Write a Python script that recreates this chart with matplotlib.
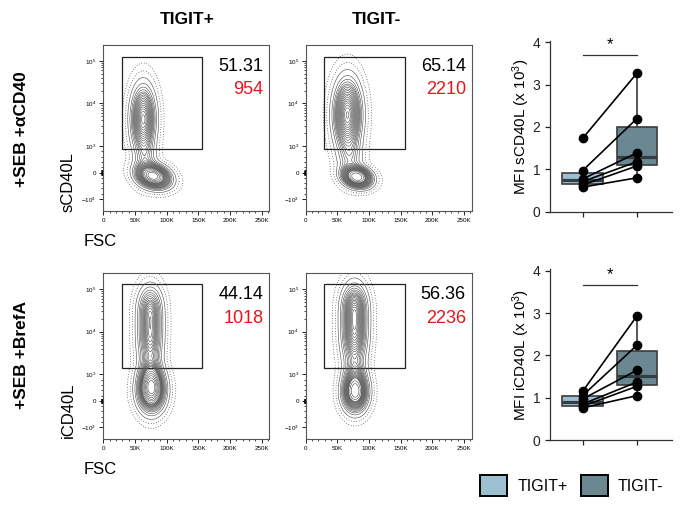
import numpy as np
import matplotlib
matplotlib.use('Agg')
import matplotlib.pyplot as plt
from matplotlib.patches import Rectangle, Patch

plt.rcParams['font.family'] = ['Liberation Sans', 'DejaVu Sans']
plt.rcParams['mathtext.default'] = 'regular'

# ---- labels ----
col_titles = ['TIGIT+', 'TIGIT-']
row_titles = ['+SEB +\u03b1CD40', '+SEB +BrefA']
marker_labels = ['sCD40L', 'iCD40L']
box_ylabels = ['MFI sCD40L (x 10$^3$)', 'MFI iCD40L (x 10$^3$)']

# ---- numbers printed in the flow panels [row][col] ----
gate_pct = [['51.31', '65.14'], ['44.14', '56.36']]
gate_mfi = [['954', '2210'], ['1018', '2236']]

# ---- gate per row (FSC range, CD40L range) ----
gate_fsc = [29e3, 156e3]
gate_low = [900, 1420]
gate_high = [1.25e5, 1.32e5]

# ---- cell populations per panel [row][col]
# each: FSC centre (K), CD40L centre (display units: 0 -> 0, 0.62 -> 10^3, 1.62 -> 10^4),
#       FSC spread (K), CD40L spread, weight, correlation
pops = [
    [
        [[63, 1.25, 10.5, 0.42, 0.50, 0.0], [79, -0.08, 14, 0.15, 0.42, -0.25], [66, 0.30, 10, 0.30, 0.08, 0.0]],
        [[66, 1.35, 12, 0.45, 0.62, 0.0], [81, -0.10, 12, 0.13, 0.30, -0.2], [70, 0.35, 11, 0.30, 0.08, 0.0]],
    ],
    [
        [[74, 1.55, 11, 0.50, 0.36, 0.0], [74, 2.20, 11, 0.28, 0.10, 0.0], [76, 0.25, 12, 0.28, 0.44, 0.0],
         [75, 0.60, 10, 0.25, 0.10, 0.0]],
        [[77, 1.65, 11.5, 0.50, 0.46, 0.0], [77, 2.25, 11.5, 0.28, 0.12, 0.0], [78, 0.20, 11, 0.25, 0.34, 0.0],
         [78, 0.60, 10, 0.25, 0.08, 0.0]],
    ],
]

# ---- paired MFI values (x 10^3) ----
s_pos = [1.73, 0.97, 0.77, 0.71, 0.63, 0.58]
s_neg = [3.27, 2.20, 1.39, 1.18, 1.08, 0.80]
i_pos = [1.15, 1.05, 0.97, 0.85, 0.80, 0.76]
i_neg = [2.93, 2.24, 1.65, 1.37, 1.27, 1.05]
sig_height = [3.70, 3.66]

c_pos = '#9cc0d2'
c_neg = '#6b8892'
red = '#e8141c'

W, H = 680, 505
LIN = 0.62  # display width of the linear part (per decade)


def px(x, y, w, h):
    return [x / W, 1 - (y + h) / H, w / W, h / H]


def to_data(u):
    u = np.asarray(u, dtype=float)
    a = np.abs(u)
    out = np.where(a <= LIN, a / LIN * 1000, 1000 * 10 ** (a - LIN))
    return np.sign(u) * out


def density(gx, gu, plist):
    z = np.zeros_like(gx)
    for fx, fu, sx, su, w, rho in plist:
        dx = (gx - fx) / sx
        du = (gu - fu) / su
        q = (dx ** 2 - 2 * rho * dx * du + du ** 2) / (1 - rho ** 2)
        z += w / (sx * su * np.sqrt(1 - rho ** 2)) * np.exp(-0.5 * q)
    return z


def prob_levels(z, fracs):
    flat = np.sort(z.ravel())[::-1]
    cum = np.cumsum(flat)
    cum /= cum[-1]
    return sorted(set(flat[np.searchsorted(cum, f)] for f in fracs))


fig = plt.figure(figsize=(6.8, 5.05), dpi=100)

flow_x = [103.3, 305.7]
flow_y = [45, 273.3]
gx1 = np.linspace(0, 262, 340)
gu1 = np.linspace(-0.9, 2.99, 340)
GX, GU = np.meshgrid(gx1, gu1)
ytick_vals = [-1e3, 0, 1e3, 1e4, 1e5]
ytick_labs = ['$-10^3$', '0', '$10^3$', '$10^4$', '$10^5$']
yminor = []
for d in [3, 4]:
    yminor += [k * 10 ** d for k in range(2, 10)]
yminor += [-k * 100 for k in range(2, 10, 2)] + [k * 100 for k in range(2, 10, 2)]
yminor += [k * 10 for k in range(-9, 10) if k != 0]

for r in range(2):
    for c in range(2):
        ax = fig.add_axes(px(flow_x[c], flow_y[r], 166, 166))
        ax.set_yscale('symlog', linthresh=1000, linscale=LIN * 0.9)
        z = density(GX, GU, pops[r][c])
        lv = prob_levels(z, np.arange(0.06, 0.961, 0.045))
        lv_out = prob_levels(z, [0.985, 0.996])
        ax.contour(GX * 1000, to_data(GU), z, levels=lv, colors='#5a5a5a', linewidths=0.45)
        ax.contour(GX * 1000, to_data(GU), z, levels=lv_out, colors='#111111',
                   linewidths=0.55, linestyles=[(0, (0.8, 2.6))])
        ax.add_patch(Rectangle((gate_fsc[0], gate_low[r]), gate_fsc[1] - gate_fsc[0],
                               gate_high[r] - gate_low[r], fill=False, ec='#222222', lw=0.9))
        ax.set_xlim(0, 262e3)
        ax.set_ylim(-1905, 2.34e5)
        ax.set_xticks([0, 50e3, 100e3, 150e3, 200e3, 250e3])
        ax.set_xticklabels(['0', '50K', '100K', '150K', '200K', '250K'], fontsize=4.5)
        ax.set_xticks(np.arange(10e3, 262e3, 10e3), minor=True)
        ax.set_yticks(ytick_vals)
        ax.set_yticklabels(ytick_labs, fontsize=4.5)
        ax.set_yticks(yminor, minor=True)
        ax.tick_params(which='major', length=3, width=0.6, pad=2)
        ax.tick_params(which='minor', length=1.6, width=0.5)
        for s in ax.spines.values():
            s.set_color('#555555')
            s.set_linewidth(0.8)
        ax.text(0.965, 0.87, gate_pct[r][c], transform=ax.transAxes, ha='right', va='center',
                fontsize=13, color='black')
        ax.text(0.965, 0.73, gate_mfi[r][c], transform=ax.transAxes, ha='right', va='center',
                fontsize=13, color=red)

# ---- text labels ----
fig.text(187 / W, 1 - 20 / H, col_titles[0], ha='center', va='center', fontsize=12.5, fontweight='bold')
fig.text(376 / W, 1 - 20 / H, col_titles[1], ha='center', va='center', fontsize=12.5, fontweight='bold')
fig.text(22 / W, 1 - 129 / H, row_titles[0], ha='center', va='center', rotation=90,
         fontsize=12.5, fontweight='bold')
fig.text(22 / W, 1 - 355 / H, row_titles[1], ha='center', va='center', rotation=90,
         fontsize=12.5, fontweight='bold')
for r in range(2):
    fig.text(68 / W, 1 - (182 + 228 * r) / H, marker_labels[r], ha='center', va='center',
             rotation=90, fontsize=12)
    fig.text(100 / W, 1 - (242 + 228 * r) / H, 'FSC', ha='center', va='center', fontsize=12)

# ---- paired box plots ----
box_data = [(s_pos, s_neg), (i_pos, i_neg)]
box_top = [41, 269.4]
for r in range(2):
    pos, neg = box_data[r]
    ax = fig.add_axes(px(550, box_top[r], 121.7, 170.7))
    bp = ax.boxplot([pos, neg], positions=[0, 1], widths=0.75, patch_artist=True,
                    showfliers=False, showcaps=False,
                    boxprops=dict(edgecolor='#3c3c3c', linewidth=1.2),
                    whiskerprops=dict(color='#4a4a4a', linewidth=1.3),
                    medianprops=dict(color='#343f44', linewidth=2.3))
    for patch, col in zip(bp['boxes'], [c_pos, c_neg]):
        patch.set_facecolor(col)
    for a, b in zip(pos, neg):
        ax.plot([0, 1], [a, b], color='black', lw=1.2, marker='o', ms=6, zorder=4)
    ax.plot([0, 1], [sig_height[r], sig_height[r]], color='#333333', lw=0.9)
    ax.text(0.5, sig_height[r] + 0.06, '*', ha='center', va='bottom', fontsize=12)
    ax.set_xlim(-0.6, 1.64)
    ax.set_ylim(0, 4.03)
    ax.set_xticks([0, 1])
    ax.set_xticklabels(['', ''])
    ax.set_yticks([0, 1, 2, 3, 4])
    ax.tick_params(labelsize=10, length=3.5, width=0.9, colors='#222222')
    for s in ['top', 'right']:
        ax.spines[s].set_visible(False)
    for s in ['left', 'bottom']:
        ax.spines[s].set_linewidth(0.9)
        ax.spines[s].set_color('#333333')
    fig.text(521.7 / W, 1 - (126.5 + 228.5 * r) / H, box_ylabels[r], ha='center', va='center',
             rotation=90, fontsize=11)

# ---- legend ----
handles = [Patch(facecolor=c_pos, edgecolor='black', linewidth=1.4, label='TIGIT+'),
           Patch(facecolor=c_neg, edgecolor='black', linewidth=1.4, label='TIGIT-')]
fig.legend(handles=handles, loc='lower left', bbox_to_anchor=(480 / W, 1 - 496 / H), ncol=2,
           frameon=False, fontsize=11.5, handlelength=1.7, handleheight=1.6,
           handletextpad=0.65, columnspacing=0.8, borderpad=0, borderaxespad=0)

fig.savefig('out.png', dpi=100, facecolor='white')
